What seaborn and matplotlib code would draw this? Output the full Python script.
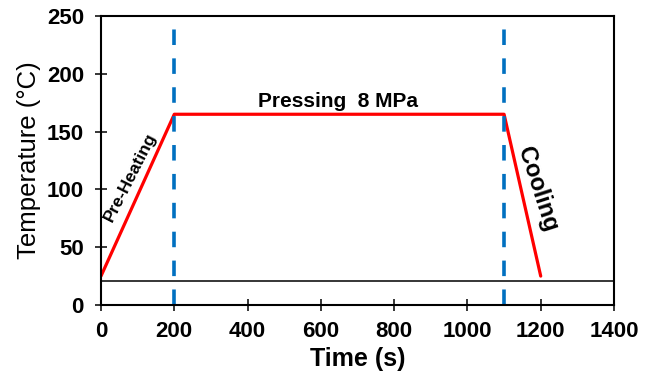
import matplotlib
matplotlib.use("Agg")
import matplotlib.pyplot as plt
import seaborn as sns

# Temperature profile of the hot-press cycle
time_s = [0, 200, 1100, 1200]
temp_c = [25, 165, 165, 25]
stage_bounds = [200, 1100]
room_temp = 21

sns.set_style("ticks", {"axes.edgecolor": "black", "text.color": "black",
                        "axes.labelcolor": "black", "xtick.color": "black",
                        "ytick.color": "black"})
plt.rcParams["font.family"] = ["Liberation Sans", "DejaVu Sans"]

fig = plt.figure(figsize=(6.51, 3.77), dpi=100)
ax = fig.add_axes([101 / 651, 72 / 377, 513 / 651, 289 / 377])

sns.lineplot(x=time_s, y=temp_c, ax=ax, color="#FF0000", linewidth=2.3)
for b in stage_bounds:
    ax.axvline(b, color="#0070C0", linewidth=2.6, dashes=(4.3, 3.7))
ax.axhline(room_temp, color="black", linewidth=1.1)

ax.text(80, 111, "Pre-Heating", rotation=63, ha="center", va="center",
        fontsize=12.5, fontweight="bold")
ax.text(647, 176, "Pressing  8 MPa", ha="center", va="center",
        fontsize=15, fontweight="bold")
ax.text(1190, 100, "Cooling", rotation=-72, ha="center", va="center",
        fontsize=17, fontweight="bold")

ax.set_xlim(0, 1400)
ax.set_ylim(0, 250)
ax.set_xticks(range(0, 1401, 200))
ax.set_yticks(range(0, 251, 50))
ax.set_xlabel("Time (s)", fontsize=18, fontweight="bold")
ax.set_ylabel("Temperature (\u00b0C)", fontsize=18.5)
ax.tick_params(direction="inout", length=8.6, width=1.1, labelsize=16)
ax.tick_params(axis="y", pad=8)
ax.tick_params(axis="x", pad=7)
for lbl in ax.get_xticklabels() + ax.get_yticklabels():
    lbl.set_fontweight("bold")
for sp in ax.spines.values():
    sp.set_linewidth(1.5)

fig.savefig("out.png", dpi=100)
